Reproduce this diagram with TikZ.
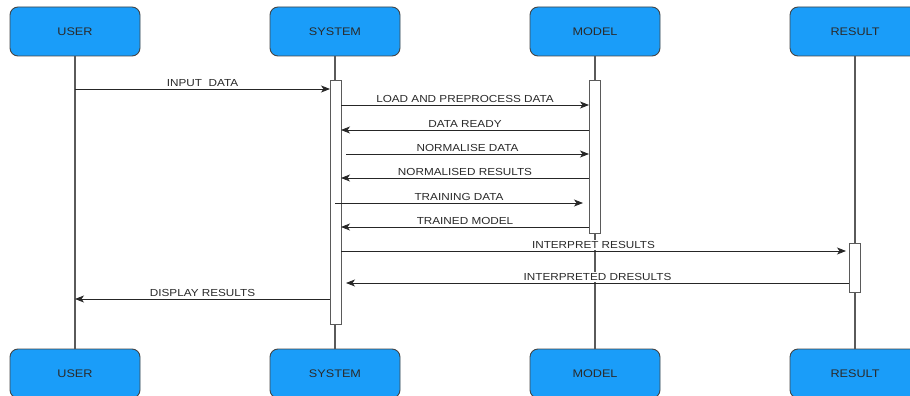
\documentclass[tikz,border=0pt]{standalone}
\usepackage{fontspec}
\setmainfont{Liberation Sans}
\newfontfamily\lblfont[FakeStretch=1.15]{Liberation Sans}
\usetikzlibrary{arrows.meta,calc}
\definecolor{boxblue}{HTML}{1A9DF9}
\definecolor{edgegray}{HTML}{444444}
\definecolor{linegray}{HTML}{5A5A5A}
\definecolor{txtgray}{HTML}{2A2A2A}
\begin{document}
\begin{tikzpicture}[x=1pt,y=-1pt,
  actor/.style={draw=edgegray,line width=0.9pt,fill=boxblue,rounded corners=8pt,
    minimum width=130pt,minimum height=49pt,inner sep=0pt,
    font=\lblfont\fontsize{11}{13}\selectfont,text=txtgray},
  lifeline/.style={draw=linegray,line width=1.1pt},
  actbar/.style={draw=linegray,line width=0.9pt,fill=white,minimum width=11pt,inner sep=0pt},
  msg/.style={draw=black!85,line width=0.8pt,-{Stealth[length=9pt,width=7pt,inset=2.5pt]}},
  lbl/.style={fill=white,inner sep=1pt,text=txtgray,font=\lblfont\fontsize{10.2}{12}\selectfont,yshift=1pt}
]
\useasboundingbox (0,0) rectangle (910,396);

% actors
\node[actor] (usertop) at (75,31.5) {USER};
\node[actor] (systop) at (335,31.5) {SYSTEM};
\node[actor] (modtop) at (595,31.5) {MODEL};
\node[actor] (restop) at (855,31.5) {RESULT};
\node[actor] (userbot) at (75,373.5) {USER};
\node[actor] (sysbot) at (335,373.5) {SYSTEM};
\node[actor] (modbot) at (595,373.5) {MODEL};
\node[actor] (resbot) at (855,373.5) {RESULT};

% lifelines
\draw[lifeline] (usertop.south) -- (userbot.north);
\draw[lifeline] (systop.south) -- (sysbot.north);
\draw[lifeline] (modtop.south) -- (modbot.north);
\draw[lifeline] (restop.south) -- (resbot.north);

% activation bars
\node[actbar,minimum height=244pt] (sysbar) at (335.5,202) {};
\node[actbar,minimum height=153pt] (modbar) at (594.5,156.5) {};
\node[actbar,minimum height=49pt] (resbar) at (854.5,267.5) {};

% endpoints
\coordinate (a1s) at (75,89);   \coordinate (a1e) at (330,89);
\coordinate (a2s) at (341,105); \coordinate (a2e) at (589,105);
\coordinate (a3s) at (589,130); \coordinate (a3e) at (341,130);
\coordinate (a4s) at (346,154); \coordinate (a4e) at (589,154);
\coordinate (a5s) at (589,178); \coordinate (a5e) at (341,178);
\coordinate (a6s) at (335,203); \coordinate (a6e) at (583,203);
\coordinate (a7s) at (589,227); \coordinate (a7e) at (341,227);
\coordinate (a8s) at (341,251); \coordinate (a8e) at (846,251);
\coordinate (a9s) at (849,283); \coordinate (a9e) at (346,283);
\coordinate (a10s) at (330,299); \coordinate (a10e) at (75,299);

% messages
\draw[msg] (a1s) -- (a1e) node[lbl,midway,above] (l1) {INPUT~~DATA};
\draw[msg] (a2s) -- (a2e) node[lbl,midway,above] (l2) {LOAD AND PREPROCESS DATA};
\draw[msg] (a3s) -- (a3e) node[lbl,midway,above] (l3) {DATA READY};
\draw[msg] (a4s) -- (a4e) node[lbl,midway,above] (l4) {NORMALISE DATA};
\draw[msg] (a5s) -- (a5e) node[lbl,midway,above] (l5) {NORMALISED RESULTS};
\draw[msg] (a6s) -- (a6e) node[lbl,midway,above] (l6) {TRAINING DATA};
\draw[msg] (a7s) -- (a7e) node[lbl,midway,above] (l7) {TRAINED MODEL};
\draw[msg] (a8s) -- (a8e) node[lbl,midway,above] (l8) {INTERPRET RESULTS};
\draw[msg] (a9s) -- (a9e) node[lbl,midway,above] (l9) {INTERPRETED DRESULTS};
\draw[msg] (a10s) -- (a10e) node[lbl,midway,above] (l10) {DISPLAY RESULTS};
\end{tikzpicture}
\end{document}
